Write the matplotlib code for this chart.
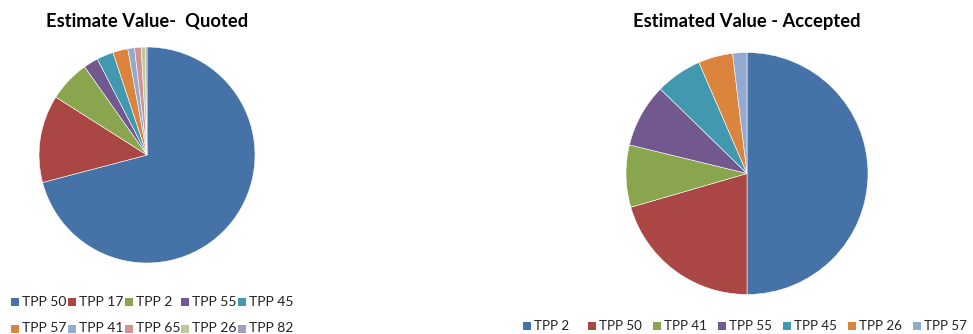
import matplotlib.pyplot as plt
from matplotlib.patches import Rectangle

# data
quoted_labels = ["TPP 50", "TPP 17", "TPP 2", "TPP 55", "TPP 45",
                 "TPP 57", "TPP 41", "TPP 65", "TPP 26", "TPP 82"]
quoted_values = [70.9, 13.1, 6.2, 2.2, 2.5, 2.25, 1.0, 1.0, 0.6, 0.25]

accepted_labels = ["TPP 2", "TPP 50", "TPP 41", "TPP 55", "TPP 45", "TPP 26", "TPP 57"]
accepted_values = [50.0, 20.5, 8.3, 8.5, 6.2, 4.6, 1.9]

# excel 2007 palette
palette = ["#4572A7", "#AA4643", "#89A54E", "#71588F", "#4198AF",
           "#DB843D", "#93A9CF", "#D19392", "#B9CD96", "#A99BBD"]

W, H = 973, 334
plt.rcParams['font.family'] = ['Lato', 'DejaVu Sans']
fig = plt.figure(figsize=(W / 100, H / 100), dpi=100)


def pie_axes(cx, cy, r):
    # pixel center/radius -> figure fraction box
    return fig.add_axes([(cx - r) / W, (H - cy - r) / H, 2 * r / W, 2 * r / H])


def draw_pie(ax, values):
    ax.pie(values, colors=palette[:len(values)], startangle=90, counterclock=False,
           radius=1, wedgeprops=dict(edgecolor="white", linewidth=0.4))
    ax.set_xlim(-1, 1)
    ax.set_ylim(-1, 1)
    ax.set_aspect("auto")
    ax.axis("off")


def legend_row(labels, colors, x0, dx, y, size=10):
    for i, lab in enumerate(labels):
        x = x0 + i * dx
        fig.patches.append(Rectangle((x / W, (H - y - 4) / H), 8 / W, 8 / H,
                                     transform=fig.transFigure, facecolor=colors[i],
                                     edgecolor="none"))
        fig.text((x + 11) / W, (H - y) / H, lab, fontsize=size, va="center",
                 ha="left", color="#222222")


ax1 = pie_axes(147, 155, 108)
draw_pie(ax1, quoted_values)
fig.text(147 / W, (H - 21) / H, "Estimate Value-  Quoted", fontsize=13.2,
         fontweight="bold", ha="center", va="center")

ax2 = pie_axes(747, 173.5, 121)
draw_pie(ax2, accepted_values)
fig.text(747 / W, (H - 22) / H, "Estimated Value - Accepted", fontsize=13.2,
         fontweight="bold", ha="center", va="center")

legend_row(quoted_labels[:5], palette[:5], 11, 56.8, 301.5)
legend_row(quoted_labels[5:], palette[5:], 11, 56.8, 328.5)
legend_row(accepted_labels, palette, 523, 65.0, 326, size=9.6)

fig.savefig("out.png", dpi=100)
